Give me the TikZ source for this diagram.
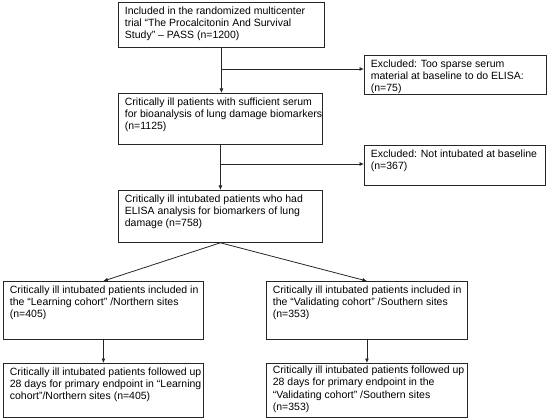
\documentclass[tikz,border=0pt]{standalone}
\usepackage{fontspec}
\setmainfont{Liberation Sans}
\usetikzlibrary{arrows.meta}
\newcommand\bxtext[3]{\parbox[c][#1][t]{#2}{\begin{tabular}[t]{@{}l@{}}#3\end{tabular}}}
\tikzset{
  flowbox/.style={draw=black!85, line width=0.8pt, rectangle, anchor=north west,
    inner xsep=6.5pt, inner ysep=3pt, align=left,
    font=\fontsize{10.5}{12.4}\selectfont},
  flowarrow/.style={draw=black!85, line width=0.8pt, -{Latex[length=4.5pt,width=4pt]}}
}
\begin{document}
\begin{tikzpicture}[x=1pt,y=-1pt]
\useasboundingbox (0,0) rectangle (548,419);
\node[flowbox] (B1) at (118,2) {\bxtext{39pt}{193pt}{Included in the randomized multicenter\\trial “The Procalcitonin And Survival\\Study” – PASS (n=1200)}};
\node[flowbox] (E1) at (364,55) {\bxtext{33pt}{169pt}{Excluded: Too sparse serum\\material at baseline to do ELISA:\\(n=75)}};
\node[flowbox] (B2) at (118,93) {\bxtext{45pt}{191pt}{Critically ill patients with sufficient serum\\for bioanalysis of lung damage biomarkers\\(n=1125)}};
\node[flowbox] (E2) at (364,145) {\bxtext{34pt}{168pt}{Excluded: Not intubated at baseline\\(n=367)}};
\node[flowbox] (B3) at (118,190) {\bxtext{46pt}{191pt}{Critically ill intubated patients who had\\ELISA analysis for biomarkers of lung\\damage (n=758)}};
\node[flowbox] (L1) at (3,281) {\bxtext{52pt}{187pt}{Critically ill intubated patients included in\\the “Learning cohort” /Northern sites\\(n=405)}};
\node[flowbox] (R1) at (266,281) {\bxtext{52pt}{188pt}{Critically ill intubated patients included in\\the “Validating cohort” /Southern sites\\(n=353)}};
\node[flowbox] (L2) at (3,363) {\bxtext{48pt}{187pt}{Critically ill intubated patients followed up\\28 days for primary endpoint in “Learning\\cohort”/Northern sites (n=405)}};
\node[flowbox, inner ysep=1.5pt] (R2) at (266,363) {\bxtext{51pt}{188pt}{Critically ill intubated patients followed up\\28 days for primary endpoint in the\\“Validating cohort” /Southern sites\\(n=353)}};

\coordinate (j1) at (B1.south |- 0,69);
\coordinate (j2) at (B2.south |- 0,164);
\draw[flowarrow] (B1.south) -- (B1.south |- B2.north);
\draw[flowarrow] (j1) -- (j1 -| E1.west);
\draw[flowarrow] (B2.south) -- (B2.south |- B3.north);
\draw[flowarrow] (j2) -- (j2 -| E2.west);
\draw[flowarrow] (B3.south) -- (L1.north);
\draw[flowarrow] (B3.south) -- (R1.north);
\draw[flowarrow] (L1.south) -- (L2.north);
\draw[flowarrow] (R1.south) -- (R2.north);
\end{tikzpicture}
\end{document}
